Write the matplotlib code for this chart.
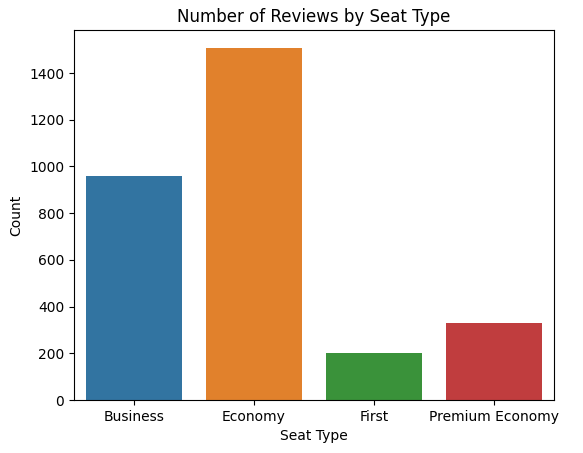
import matplotlib
matplotlib.use("Agg")
import matplotlib.pyplot as plt

seat_types = ["Business", "Economy", "First", "Premium Economy"]
counts = [960, 1509, 201, 330]
colors = ["#3274a1", "#e1812c", "#3a923a", "#c03d3e"]

fig = plt.figure(figsize=(5.83, 4.53), dpi=100)
ax = fig.add_axes([74 / 583, 53 / 453, 480 / 583, 370 / 453])

ax.bar(seat_types, counts, width=0.8, color=colors)
ax.set_xlim(-0.5, len(seat_types) - 0.5)
ax.set_title("Number of Reviews by Seat Type")
ax.set_xlabel("Seat Type")
ax.set_ylabel("Count")

fig.savefig("out.png", dpi=100)
